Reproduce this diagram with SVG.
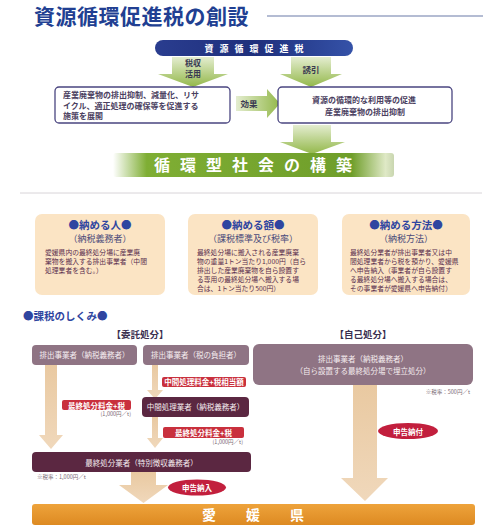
<svg xmlns="http://www.w3.org/2000/svg" width="500" height="529" viewBox="0 0 500 529">
<defs>
<linearGradient id="gBlue" x1="0" y1="0" x2="1" y2="0"><stop offset="0" stop-color="#2a3d8f"/><stop offset="0.5" stop-color="#1e2f7c"/><stop offset="1" stop-color="#3552a8"/></linearGradient>
<linearGradient id="gGreenDown" x1="0" y1="0" x2="0" y2="1"><stop offset="0" stop-color="#e4edd0"/><stop offset="1" stop-color="#93b84a"/></linearGradient>
<linearGradient id="gGreenRight" x1="0" y1="0" x2="1" y2="0"><stop offset="0" stop-color="#e4edd0"/><stop offset="1" stop-color="#93b84a"/></linearGradient>
<linearGradient id="gBanner" x1="0" y1="0" x2="1" y2="0"><stop offset="0" stop-color="#ffffff"/><stop offset="0.12" stop-color="#7fae34"/><stop offset="0.85" stop-color="#6f9e2a"/><stop offset="0.97" stop-color="#dfe9c6"/><stop offset="1" stop-color="#c9d6b0"/></linearGradient>
<linearGradient id="gTan" x1="0" y1="0" x2="0" y2="1"><stop offset="0" stop-color="#e9c9a1"/><stop offset="1" stop-color="#f0d8bb"/></linearGradient>
<linearGradient id="gOrange" x1="0" y1="0" x2="0" y2="1"><stop offset="0" stop-color="#eea33b"/><stop offset="1" stop-color="#dd8a22"/></linearGradient>
<style>
.jp{font-family:"Noto Sans CJK JP","Noto Sans",sans-serif}
.b{font-weight:bold}
.beigeT{fill:#2f45a0;font-weight:bold;font-size:10.5px}
.beigeS{fill:#4a4a7a;font-size:9px}
.beigeB{fill:#5a2e4e;font-size:6.8px}
.mauve{fill:#8f7484}
.maroon{fill:#5b2741}
.wt{fill:#f5ecef;font-size:7.5px}
.red{fill:#c9303d}
.redT{fill:#ffffff;font-weight:bold;font-size:7.5px}
.small{fill:#7a6a74;font-size:5.5px}
.tan{fill:url(#gTan)}
</style>
</defs>

<!-- Title -->
<g id="title">
<text x="34" y="24" class="jp b" font-size="21" fill="#213f92" letter-spacing="0.5">資源循環促進税の創設</text>
<line x1="267" y1="16" x2="483" y2="16" stroke="#6a7aa8" stroke-width="1.2"/>
</g>

<!-- Connectors -->
<g id="connectors">
<path d="M172 57 H214 V74 H228 L193 87 L158 74 H172 Z" fill="url(#gGreenDown)"/>
<path d="M291 57 H331 V74 H342 L311 87 L280 74 H291 Z" fill="url(#gGreenDown)"/>
<path d="M236 96 H267 V89 L280 103.5 L267 118 V111 H236 Z" fill="url(#gGreenRight)"/>
<path d="M293 125 H331 V142 H345 L312 154 L280 142 H293 Z" fill="url(#gGreenDown)"/>
<path d="M45 365 H57 V435 H63 L51 449 L39 435 H45 Z" class="tan"/>
<path d="M152 365 H158 V390 H163 L155 399 L147 390 H152 Z" class="tan"/>
<path d="M152 416 H158 V438 H163 L155 448 L147 438 H152 Z" class="tan"/>
<path d="M131 472 H156 V485 H168 L143.5 503 L119 485 H131 Z" class="tan"/>
<path d="M353 385 H377 V478 H388 L365 501 L341 478 H353 Z" class="tan"/>
</g>

<g id="label-zeishu" class="jp b" font-size="8" fill="#3a3a52">
<text x="193" y="66" text-anchor="middle">税収</text>
<text x="193" y="77" text-anchor="middle">活用</text>
</g>
<g id="label-yuin" class="jp b" font-size="8.5" fill="#3a3a52"><text x="311" y="73" text-anchor="middle">誘引</text></g>
<g id="label-koka" class="jp b" font-size="8.5" fill="#3a3a52"><text x="249" y="107" text-anchor="middle">効果</text></g>

<!-- Top pill -->
<g id="tax-pill">
<rect x="155" y="40" width="198" height="16" rx="8" fill="url(#gBlue)"/>
<text x="257" y="51.5" text-anchor="middle" class="jp b" font-size="9" fill="#ffffff" letter-spacing="6">資源循環促進税</text>
</g>

<!-- Left box -->
<g id="box-policy">
<rect x="55" y="87" width="175" height="36" rx="4" fill="#ffffff" stroke="#4a4580" stroke-width="1.3"/>
<text class="jp b" font-size="8" fill="#4a4060">
<tspan x="63" y="98">産業廃棄物の排出抑制、減量化、リサ</tspan>
<tspan x="63" y="108.5">イクル、適正処理の確保等を促進する</tspan>
<tspan x="63" y="119">施策を展開</tspan>
</text>
</g>

<!-- Right box -->
<g id="box-effect">
<rect x="278" y="87" width="174" height="36" rx="4" fill="#ffffff" stroke="#4a4580" stroke-width="1.3"/>
<text class="jp b" font-size="8" fill="#4a4060" text-anchor="middle">
<tspan x="365" y="103">資源の循環的な利用等の促進</tspan>
<tspan x="365" y="115">産業廃棄物の排出抑制</tspan>
</text>
</g>

<!-- Green banner -->
<g id="banner-society">
<rect x="113" y="153" width="281" height="24" rx="3" fill="url(#gBanner)"/>
<text x="258" y="171" text-anchor="middle" class="jp b" font-size="16" fill="#ffffff" letter-spacing="10">循環型社会の構築</text>
</g>

<line x1="20" y1="193" x2="482" y2="193" stroke="#d8d4d8" stroke-width="1"/>

<!-- Beige boxes -->
<g id="box-payer">
<rect x="35" y="214" width="130" height="81" rx="7" fill="#fbe4c4"/>
<text x="100" y="229" text-anchor="middle" class="jp beigeT">●納める人●</text>
<text x="100" y="242" text-anchor="middle" class="jp beigeS">（納税義務者）</text>
<text class="jp beigeB">
<tspan x="45" y="255">愛媛県内の最終処分場に産業廃</tspan>
<tspan x="45" y="264">棄物を搬入する排出事業者（中間</tspan>
<tspan x="45" y="273">処理業者を含む。）</tspan>
</text>
</g>

<g id="box-amount">
<rect x="188" y="214" width="130" height="81" rx="7" fill="#fbe4c4"/>
<text x="253" y="229" text-anchor="middle" class="jp beigeT">●納める額●</text>
<text x="253" y="242" text-anchor="middle" class="jp beigeS">（課税標準及び税率）</text>
<text class="jp beigeB">
<tspan x="197" y="255">最終処分場に搬入される産業廃棄</tspan>
<tspan x="197" y="264">物の重量1トン当たり1,000円（自ら</tspan>
<tspan x="197" y="273">排出した産業廃棄物を自ら設置す</tspan>
<tspan x="197" y="282">る専用の最終処分場へ搬入する場</tspan>
<tspan x="197" y="291">合は、1トン当たり500円）</tspan>
</text>
</g>

<g id="box-method">
<rect x="342" y="214" width="128" height="81" rx="7" fill="#fbe4c4"/>
<text x="406" y="229" text-anchor="middle" class="jp beigeT">●納める方法●</text>
<text x="406" y="242" text-anchor="middle" class="jp beigeS">（納税方法）</text>
<text class="jp beigeB">
<tspan x="350" y="255">最終処分業者が排出事業者又は中</tspan>
<tspan x="350" y="264">間処理業者から税を預かり、愛媛県</tspan>
<tspan x="350" y="273">へ申告納入（事業者が自ら設置す</tspan>
<tspan x="350" y="282">る最終処分場へ搬入する場合は、</tspan>
<tspan x="350" y="291">その事業者が愛媛県へ申告納付）</tspan>
</text>
</g>

<!-- Section heading -->
<g id="heading-mechanism">
<text x="23" y="320" class="jp b" font-size="10.5" fill="#2f45a0">●課税のしくみ●</text>
<text x="140" y="338" text-anchor="middle" class="jp b" font-size="9.5" fill="#3a3050">【委託処分】</text>
<text x="363" y="338" text-anchor="middle" class="jp b" font-size="9.5" fill="#3a3050">【自己処分】</text>
</g>

<g id="node-emitter-a">
<rect x="32" y="345" width="105" height="20" rx="4" class="mauve"/>
<text x="84.5" y="358" text-anchor="middle" class="jp wt">排出事業者（納税義務者）</text>
</g>

<g id="node-emitter-b">
<rect x="143" y="345" width="106" height="20" rx="4" class="mauve"/>
<text x="196" y="358" text-anchor="middle" class="jp wt">排出事業者（税の負担者）</text>
</g>

<g id="node-emitter-c">
<rect x="253" y="344" width="220" height="41" rx="6" class="mauve"/>
<text x="363" y="362" text-anchor="middle" class="jp wt">排出事業者（納税義務者）</text>
<text x="363" y="374" text-anchor="middle" class="jp wt">（自ら設置する最終処分場で埋立処分）</text>
</g>
<text x="470" y="394" text-anchor="end" class="jp small">※税率：500円／t</text>

<g id="label-intermediate-fee">
<rect x="162" y="377" width="84" height="10" rx="2" class="red"/>
<text x="204" y="385" text-anchor="middle" class="jp redT" font-size="7">中間処理料金+税相当額</text>
</g>

<g id="node-intermediate">
<rect x="142" y="397" width="107" height="20" rx="4" class="maroon"/>
<text x="195.5" y="410" text-anchor="middle" class="jp wt">中間処理業者（納税義務者）</text>
</g>

<g id="label-final-fee-a">
<rect x="62" y="400" width="69" height="10" rx="2" class="red"/>
<text x="96.5" y="408.5" text-anchor="middle" class="jp redT">最終処分料金+税</text>
<text x="131" y="416" text-anchor="end" class="jp small">(1,000円／t)</text>
</g>

<g id="label-final-fee-b">
<rect x="163" y="427" width="81" height="11" rx="2" class="red"/>
<text x="203.5" y="435.5" text-anchor="middle" class="jp redT" font-size="8">最終処分料金+税</text>
<text x="243" y="444" text-anchor="end" class="jp small">(1,000円／t)</text>
</g>

<g id="node-final">
<rect x="32" y="452" width="219" height="20" rx="4" class="maroon"/>
<text x="141.5" y="465.5" text-anchor="middle" class="jp wt" font-size="8">最終処分業者（特別徴収義務者）</text>
</g>
<text x="37" y="479" class="jp small">※税率：1,000円／t</text>

<g id="label-shinkoku-nyu">
<ellipse cx="197" cy="487.5" rx="29" ry="8" fill="#c21f3d"/>
<text x="197" y="491" text-anchor="middle" class="jp redT" font-size="8.5">申告納入</text>
</g>

<g id="label-shinkoku-fu">
<ellipse cx="408" cy="431" rx="30" ry="8" fill="#c21f3d"/>
<text x="408" y="434.5" text-anchor="middle" class="jp redT" font-size="8.5">申告納付</text>
</g>

<g id="node-ehime">
<rect x="32" y="504" width="443" height="21" rx="3" fill="url(#gOrange)"/>
<text x="268" y="520" text-anchor="middle" class="jp b" font-size="14" fill="#ffffff" letter-spacing="30">愛媛県</text>
</g>
</svg>
